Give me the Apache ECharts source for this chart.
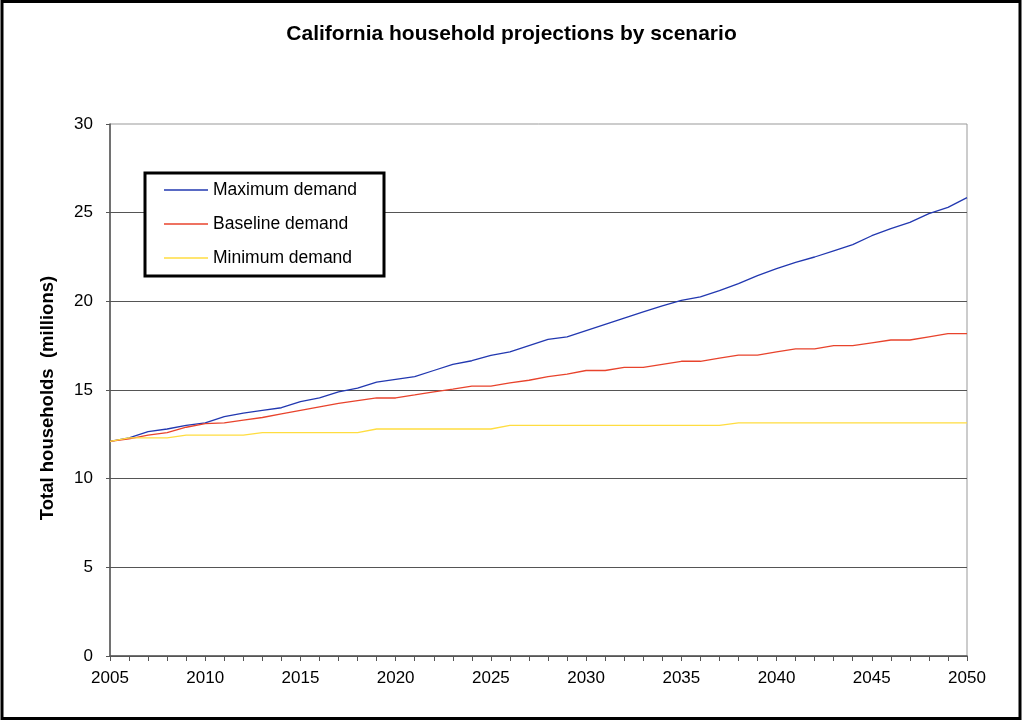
<!DOCTYPE html>
<html>
<head>
<meta charset="utf-8">
<style>
  html, body { margin: 0; padding: 0; background: #ffffff; }
  #chart { width: 1023px; height: 723px; }
</style>
<script src="https://cdn.jsdelivr.net/npm/echarts@6/dist/echarts.min.js"></script>
</head>
<body>
<div id="chart"></div>
<script>
// Projection years, 2005 through 2050
const years = [];
for (let y = 2005; y <= 2050; y++) years.push(String(y));

// Total households, millions, per scenario
const maximumDemand = [
  12.1, 12.3, 12.65, 12.8, 13.0, 13.15, 13.5, 13.7, 13.85, 14.0,
  14.35, 14.55, 14.9, 15.1, 15.45, 15.6, 15.75, 16.1, 16.45, 16.65,
  16.95, 17.15, 17.5, 17.85, 18.0, 18.35, 18.7, 19.05, 19.4, 19.75,
  20.05, 20.25, 20.6, 21.0, 21.45, 21.85, 22.2, 22.5, 22.85, 23.2,
  23.7, 24.1, 24.45, 24.95, 25.3, 25.85
];
const baselineDemand = [
  12.1, 12.25, 12.45, 12.6, 12.9, 13.1, 13.15, 13.3, 13.45, 13.65,
  13.85, 14.05, 14.25, 14.4, 14.55, 14.55, 14.72, 14.9, 15.05, 15.22,
  15.22, 15.4, 15.55, 15.75, 15.9, 16.1, 16.1, 16.28, 16.28, 16.45,
  16.62, 16.62, 16.8, 16.97, 16.97, 17.15, 17.32, 17.32, 17.5, 17.5,
  17.66, 17.82, 17.82, 18.0, 18.18, 18.18
];
const minimumDemand = [
  12.1, 12.3, 12.3, 12.3, 12.45, 12.45, 12.45, 12.45, 12.6, 12.6,
  12.6, 12.6, 12.6, 12.6, 12.8, 12.8, 12.8, 12.8, 12.8, 12.8,
  12.8, 13.0, 13.0, 13.0, 13.0, 13.0, 13.0, 13.0, 13.0, 13.0,
  13.0, 13.0, 13.0, 13.15, 13.15, 13.15, 13.15, 13.15, 13.15, 13.15,
  13.15, 13.15, 13.15, 13.15, 13.15, 13.15
];

const seriesNames = ['Maximum demand', 'Baseline demand', 'Minimum demand'];
const seriesColors = ['#2238b0', '#e8432c', '#ffdd40'];
const seriesData = [maximumDemand, baselineDemand, minimumDemand];

const FONT = '"Liberation Sans", Arial, sans-serif';

const chart = echarts.init(document.getElementById('chart'), null, { renderer: 'canvas' });

chart.setOption({
  backgroundColor: '#ffffff',
  animation: false,
  title: {
    text: 'California household projections by scenario',
    left: 'center',
    top: 19,
    textStyle: { fontFamily: FONT, fontSize: 21, fontWeight: 'bold', color: '#000' }
  },
  legend: {
    orient: 'vertical',
    left: 159,
    top: 176,
    itemGap: 16,
    itemWidth: 44,
    itemHeight: 1.5,
    icon: 'rect',
    textStyle: { fontFamily: FONT, fontSize: 17.5, color: '#000' },
    data: seriesNames.map((name, i) => ({
      name: name,
      itemStyle: { color: seriesColors[i], borderWidth: 0 }
    }))
  },
  grid: {
    left: 110, right: 56, top: 124, bottom: 67,
    show: true, borderColor: '#999', borderWidth: 1, backgroundColor: 'transparent'
  },
  xAxis: {
    type: 'category',
    data: years,
    boundaryGap: false,
    axisLine: { lineStyle: { color: '#555', width: 1.5 } },
    axisTick: { interval: 0, length: 5, lineStyle: { color: '#555' } },
    axisLabel: {
      interval: 4, margin: 14,
      fontFamily: FONT, fontSize: 17, color: '#000'
    },
    splitLine: { show: false }
  },
  yAxis: {
    type: 'value',
    min: 0, max: 30, interval: 5,
    axisLine: { show: true, lineStyle: { color: '#555', width: 1.5 } },
    axisTick: { show: true, length: 4, lineStyle: { color: '#555' } },
    axisLabel: { margin: 17, fontFamily: FONT, fontSize: 17, color: '#000' },
    splitLine: { show: true, showMaxLine: false, lineStyle: { color: '#555', width: 1.2 } }
  },
  graphic: [
    {
      type: 'rect',
      shape: { x: 2, y: 1.5, width: 1018, height: 717 },
      style: { fill: 'none', stroke: '#000', lineWidth: 3 },
      silent: true
    },
    {
      type: 'rect',
      z: 1,
      shape: { x: 145, y: 173, width: 239, height: 103 },
      style: { fill: '#ffffff', stroke: '#000', lineWidth: 3 },
      silent: true
    },
    {
      // y-axis title
      type: 'text',
      x: 48,
      y: 398,
      rotation: Math.PI / 2,
      style: {
        text: 'Total households  (millions)',
        fontFamily: FONT,
        fontSize: 18.5,
        fontWeight: 'bold',
        fill: '#000',
        align: 'center',
        verticalAlign: 'middle'
      },
      silent: true
    }
  ],
  series: seriesNames.map((name, i) => ({
    name: name,
    type: 'line',
    data: seriesData[i],
    symbol: 'none',
    z: 3,
    lineStyle: { color: seriesColors[i], width: 1.3 },
    itemStyle: { color: seriesColors[i] }
  }))
});
</script>
</body>
</html>
